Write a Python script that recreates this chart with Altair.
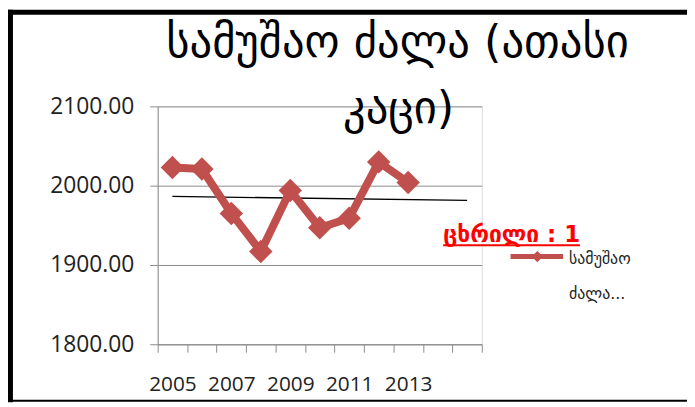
import altair as alt
import numpy as np
import pandas as pd

# ---- data ----
years = ["2005", "2006", "2007", "2008", "2009", "2010", "2011", "2012", "2013"]
values = [2023, 2021, 1965, 1917, 1994, 1947, 1959, 2030, 2004]
axis_years = ["2005", "2006", "2007", "2008", "2009", "2010", "2011", "2012", "2013", "2014", "2015"]
label_years = ["2005", "2007", "2009", "2011", "2013"]
y_ticks = [1800, 1900, 2000, 2100]

title_lines = ["სამუშაო ძალა (ათასი", "კაცი)"]
table_label = "ცხრილი : 1"
legend_lines = ["სამუშაო", "ძალა..."]

# linear trend (Excel-style, forecast forward 2 periods)
idx = np.arange(len(values))
slope, intercept = np.polyfit(idx, values, 1)
trend = pd.DataFrame({
    "year": [axis_years[0], axis_years[-1]],
    "value": [intercept, intercept + slope * (len(axis_years) - 1)],
})
df = pd.DataFrame({"year": years, "value": values})

RED = "#C0504D"
GRID = "#8C8C8C"

label_js = "[" + ",".join("'%s'" % y for y in label_years) + "]"
xenc = alt.X(
    "year:O",
    scale=alt.Scale(domain=axis_years, type="band", paddingInner=0, paddingOuter=0),
    axis=alt.Axis(
        title=None, labelAngle=0, tickBand="extent", grid=False,
        labelExpr="indexof(%s, datum.label) >= 0 ? datum.label : ''" % label_js,
        labelFont="Open Sans", labelFontSize=21, labelColor="#222222",
        labelPadding=22, tickSize=8, tickColor=GRID, domainColor=GRID,
        labelOverlap=False,
    ),
)
yenc = alt.Y(
    "value:Q",
    scale=alt.Scale(domain=[1800, 2100], nice=False, zero=False),
    axis=alt.Axis(
        title=None, values=y_ticks, format=".2f", grid=True, gridColor=GRID,
        labelFont="Open Sans", labelFontSize=23, labelColor="#222222",
        labelPadding=16, tickSize=8, tickColor=GRID, domainColor=GRID,
    ),
)

base = alt.Chart(df)
line = base.mark_line(color=RED, strokeWidth=8, strokeJoin="round").encode(x=xenc, y=yenc)
pts = base.mark_point(shape="diamond", filled=True, size=560, color=RED, opacity=1).encode(x=xenc, y=yenc)
trend_line = alt.Chart(trend).mark_line(color="#000000", strokeWidth=1.3).encode(x=xenc, y=yenc)

one = pd.DataFrame({"a": [0]})


def txt(s, px, py, size, color="#000000", weight="normal", align="center", font="DejaVu Sans"):
    return alt.Chart(one).mark_text(
        text=s, fontSize=size, font=font, color=color, fontWeight=weight,
        align=align, baseline="alphabetic",
    ).encode(x=alt.value(px), y=alt.value(py))


def rule(x1, x2, y1, y2, color, w):
    return alt.Chart(one).mark_rule(color=color, strokeWidth=w).encode(
        x=alt.value(x1), x2=alt.value(x2), y=alt.value(y1), y2=alt.value(y2))


title1 = txt(title_lines[0], 242, -50, 45)
title2 = txt(title_lines[1], 243, 17, 45)
tbl = txt(table_label, 288, 136.5, 23, color="#FF0000", weight="bold", align="left")
tbl_ul = rule(288, 426, 140, 140, "#FF0000", 2)
leg_line = rule(356, 409, 151.5, 151.5, RED, 5)
leg_pt = alt.Chart(one).mark_point(shape="diamond", filled=True, size=130, color=RED, opacity=1).encode(
    x=alt.value(383), y=alt.value(151.5))
leg_t1 = txt(legend_lines[0], 415, 159.5, 16, color="#222222", align="left")
leg_t2 = txt(legend_lines[1], 415, 194.5, 16, color="#222222", align="left")

border_top = rule(-151, 534, -95, -95, "#000000", 5)
border_left = rule(-148.5, -148.5, -97.5, 298.5, "#000000", 5)
border_bottom = rule(-151, 534, 297, 297, "#000000", 2)

chart = alt.layer(
    trend_line, line, pts, title1, title2, tbl, tbl_ul, leg_line, leg_pt, leg_t1, leg_t2,
    border_top, border_left, border_bottom,
).properties(
    width=327, height=240,
    padding={"left": 151, "top": 97.5, "right": 207, "bottom": 59},
    autosize=alt.AutoSizeParams(type="none"),
).configure_view(stroke=None).configure(background="white")

chart.save("out.html", embed_options={"renderer": "svg", "actions": False})
